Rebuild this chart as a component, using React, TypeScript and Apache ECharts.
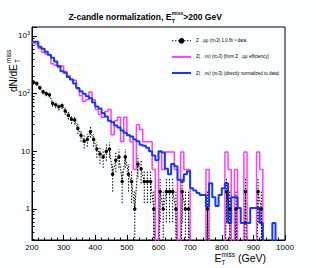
import React, { useEffect, useRef } from "react";
import * as echarts from "echarts";

// ---- data (10 GeV bins from 200 to 1000 GeV) ----
const firstEdge = 200;
const binWidth = 10;

// Z -> ll data counts (black points)
const dataCounts = [
  157, 150, 126, 108, 100, 96, 68, 64, 59, 62,
  50, 42, 36, 35, 25, 19, 15, 16, 22, 16,
  11, 9, 8, 10, 11, 4, 7, 8, 3, 8,
  4, 3, 1, 6, 5, 3, 3, 3, 1, 0,
  2, 1, 2, 2, 2, 1, 0, 2, 1, 1,
  0, 0, 0, 0, 0, 1, 0, 0, 0, 0,
  0, 2, 1, 0, 1, 0, 0, 2, 0, 0,
  0, 2, 1, 0, 0, 0, 0, 0, 0, 0,
];

// Z(nunu) predicted from Z->ll efficiency (magenta)
const effPrediction = [
  761, 728, 611, 524, 485, 466, 330, 310, 286, 301,
  243, 204, 175, 170, 121, 92, 73, 78, 107, 78,
  53, 44, 39, 49, 53, 19.4, 34, 39, 14.6, 39,
  19.4, 14.6, 4.85, 29, 24, 14.6, 14.6, 14.6, 4.85, 0,
  9.7, 4.85, 9.7, 9.7, 9.7, 4.85, 0, 9.7, 4.85, 4.85,
  0, 0, 0, 0, 0, 4.85, 0, 0, 0, 0,
  0, 9.7, 4.85, 0, 4.85, 0, 0, 9.7, 0, 0,
  0, 9.7, 4.85, 0, 0, 0, 0, 0, 0, 0,
];

// Z(nunu) directly normalized to data (blue)
const directPrediction = [
  790, 790, 650, 600, 530, 470, 420, 360, 300, 245,
  230, 195, 175, 150, 125, 110, 100, 90, 83, 70,
  60, 55, 46, 40, 34, 32, 28, 26, 23, 21,
  19, 18, 16, 15, 13, 12.5, 11.5, 10, 8.5, 7,
  10, 9.5, 5, 4, 6, 5.5, 3.2, 3, 4, 4.5,
  2.3, 2.1, 1.9, 1.75, 1.75, 1.1, 2.8, 1.6, 1.13, 1.75,
  2.3, 2.8, 0.57, 1.6, 1.6, 1.04, 0.57, 0.57, 0.57, 1.04,
  1.04, 1.04, 0.57, 0, 0, 0, 0.57, 0, 0, 0,
];

const xTicks = [200, 300, 400, 500, 600, 700, 800, 900, 1000];
const legendNames = [
  "Z\u2192\u03bc\u03bc (n\u22653) 1.0 fb\u207b\u00b9 data",
  "Z(\u2192\u03bd\u03bd) (n\u22653) [from Z\u2192\u03bc\u03bc efficiency]",
  "Z(\u2192\u03bd\u03bd) (n\u22653) (directly normalized to data)",
];

const FLOOR = 1e-3; // stands for an empty bin on the log axis (clipped away)
const Y_MIN = 0.29;
const Y_MAX = 1430;
const FONT = "'Liberation Sans', Arial, Helvetica, sans-serif";
const MAGENTA = "#ff3cff";
const BLUE = "#1538ff";

function histPoints(vals: number[]) {
  const pts: number[][] = vals.map((v, i) => [firstEdge + i * binWidth, v > 0 ? v : FLOOR]);
  const last = vals[vals.length - 1];
  pts.push([firstEdge + vals.length * binWidth, last > 0 ? last : FLOOR]);
  return pts;
}

export default function App() {
  const ref = useRef<HTMLDivElement>(null);
  useEffect(() => {
    document.body.style.margin = "0";
    if (!ref.current) return;
    const chart = echarts.init(ref.current, undefined, { renderer: "svg" });

    const centers = dataCounts.map((_, i) => firstEdge + (i + 0.5) * binWidth);
    const dataLine = dataCounts.map((n, i) =>
      n > 0 ? { value: [centers[i], n] } : { value: [centers[i], FLOOR], symbol: "none" }
    );
    const errData = dataCounts
      .map((n, i) => (n > 0 ? [centers[i], Math.max(n - Math.sqrt(n), FLOOR), n + Math.sqrt(n)] : null))
      .filter((d) => d !== null);

    const supLabel = (v: number) => {
      const l = Math.log10(v);
      const r = Math.round(l);
      if (Math.abs(l - r) > 1e-6 || r < 0) return "";
      if (r === 0) return "1";
      if (r === 1) return "10";
      return "10{s|" + r + "}";
    };

    const txt = (text: string, x: number, y: number, size: number, bold = false, align = "left") => ({
      type: "text",
      x,
      y,
      style: { text, fontSize: size, fontWeight: bold ? "bold" : "normal", fontFamily: FONT, fill: "#000", align, verticalAlign: "middle" },
    });

    chart.setOption({
      animation: false,
      backgroundColor: "#fdffff",
      grid: {
        left: 32,
        right: 31,
        top: 27,
        bottom: 28,
        show: true,
        borderColor: "#000",
        borderWidth: 1,
      },
      legend: {
        orient: "vertical",
        left: 171,
        top: 38,
        padding: 0,
        itemWidth: 19,
        itemHeight: 7,
        itemGap: 10.5,
        data: [
          { name: legendNames[0], lineStyle: { type: [1.5, 1.5], width: 1, color: "#000" } },
          { name: legendNames[1], itemStyle: { opacity: 0 } },
          { name: legendNames[2], itemStyle: { opacity: 0 } },
        ],
        textStyle: { fontSize: 4.5, fontFamily: FONT, color: "#000" },
      },
      xAxis: {
        type: "value",
        min: xTicks[0],
        max: xTicks[xTicks.length - 1],
        interval: 100,
        axisLine: { lineStyle: { color: "#000", width: 1 } },
        axisTick: { inside: true, length: 5, lineStyle: { color: "#000" } },
        minorTick: { show: true, splitNumber: 5, length: 2.5, lineStyle: { color: "#000" } },
        splitLine: { show: false },
        axisLabel: { fontSize: 8, fontFamily: FONT, color: "#000", margin: 3, formatter: (v: number) => String(v) },
      },
      yAxis: {
        type: "log",
        logBase: 10,
        min: Y_MIN,
        max: Y_MAX,
        axisLine: { show: true, lineStyle: { color: "#000", width: 1 } },
        axisTick: { show: true, inside: true, length: 5, lineStyle: { color: "#000" } },
        minorTick: { show: true, splitNumber: 9, length: 2.5, lineStyle: { color: "#000" } },
        splitLine: { show: false },
        axisLabel: {
          fontSize: 8,
          fontFamily: FONT,
          color: "#000",
          margin: 2,
          showMinLabel: false,
          showMaxLabel: false,
          formatter: supLabel,
          rich: { s: { fontSize: 5.5, fontFamily: FONT, color: "#000", verticalAlign: "top", padding: [0, 0, 5, 0] } },
        },
      },
      series: [
        {
          name: legendNames[1],
          type: "line",
          step: "end",
          symbol: "none",
          clip: true,
          data: histPoints(effPrediction),
          lineStyle: { color: MAGENTA, width: 1.5 },
          itemStyle: { color: MAGENTA },
          z: 2,
        },
        {
          name: legendNames[2],
          type: "line",
          step: "end",
          symbol: "none",
          clip: true,
          data: histPoints(directPrediction),
          lineStyle: { color: BLUE, width: 2 },
          itemStyle: { color: BLUE },
          z: 3,
        },
        {
          name: legendNames[0],
          type: "line",
          symbol: "circle",
          symbolSize: 3.5,
          clip: true,
          data: dataLine,
          lineStyle: { color: "#000", width: 1, type: [1.5, 1.5] },
          itemStyle: { color: "#000" },
          z: 5,
        },
        {
          type: "custom",
          clip: true,
          data: errData,
          encode: { x: 0, y: [1, 2] },
          renderItem: (params: any, api: any) => {
            const x = api.value(0);
            const p1 = api.coord([x, api.value(1)]);
            const p2 = api.coord([x, api.value(2)]);
            return {
              type: "line",
              shape: { x1: p1[0], y1: p1[1], x2: p2[0], y2: p2[1] },
              style: { stroke: "#000", lineWidth: 1, lineDash: [1.5, 1.5] },
            };
          },
          z: 4,
        },
      ],
      graphic: [
        // title
        txt("Z-candle normalization, E", 171.4, 16.5, 8.5, true, "right"),
        txt("miss", 171.8, 12.5, 5, true),
        txt("T", 171.8, 20.5, 5, true),
        txt(">200 GeV", 183.3, 16.5, 8.5, true),
        // x axis title
        txt("E", 214.5, 258, 10.5),
        txt("miss", 221.6, 254.3, 6.5),
        txt("T", 221.6, 262, 6.5),
        txt("(GeV)", 238, 258, 10.5),
        // y axis title (rotated)
        {
          type: "group",
          x: 13,
          y: 92,
          rotation: Math.PI / 2,
          children: [
            txt("dN/dE", 0, 0, 10),
            txt("miss", 29, -5, 6.5),
            txt("T", 29, 4, 6.5),
          ],
        },
      ],
    });
    return () => chart.dispose();
  }, []);
  return <div ref={ref} style={{ width: 316, height: 268 }} />;
}
